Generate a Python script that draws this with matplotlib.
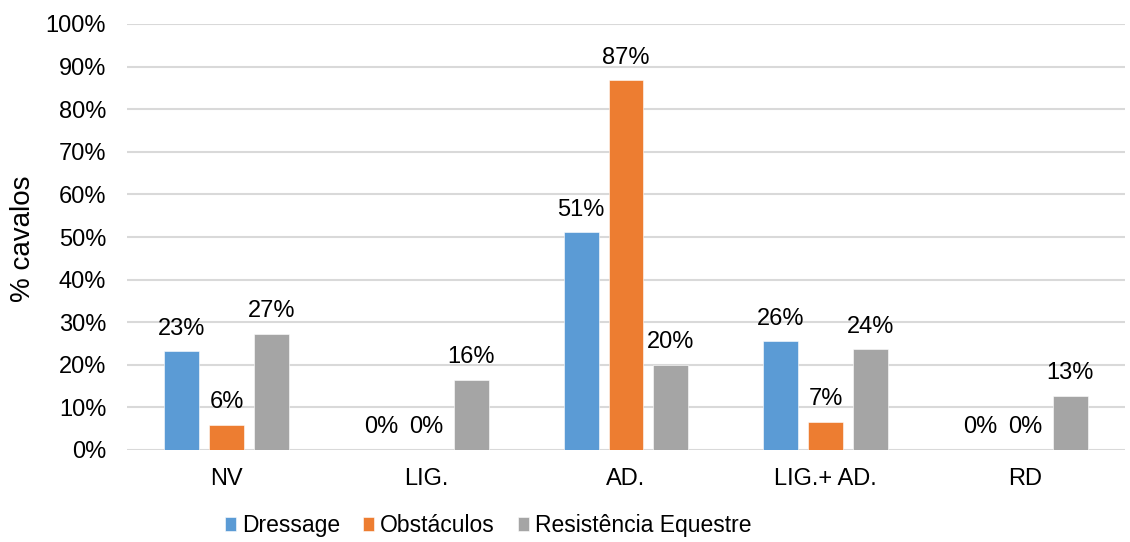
import matplotlib.pyplot as plt
import numpy as np

# categorias e percentagens por disciplina
categorias = ["NV", "LIG.", "AD.", "LIG.+ AD.", "RD"]
dressage = [23.2, 0, 51.1, 25.5, 0]
obstaculos = [5.9, 0, 86.8, 6.6, 0]
resistencia = [27.3, 16.4, 20.0, 23.6, 12.7]
series = ["Dressage", "Obstáculos", "Resistência Equestre"]
cores = ["#5B9BD5", "#ED7D31", "#A5A5A5"]

plt.rcParams['font.family'] = ['Liberation Sans', 'DejaVu Sans']

fig = plt.figure(figsize=(11.3, 5.42), dpi=100)
ax = fig.add_axes([127 / 1130, 1 - 450 / 542, 998 / 1130, 426 / 542])

x = np.arange(len(categorias))
largura = 0.175
passo = 0.225

for i, (valores, nome, cor) in enumerate(zip([dressage, obstaculos, resistencia], series, cores)):
    pos = x + (i - 1) * passo
    ax.bar(pos, valores, largura, color=cor, label=nome, zorder=3,
           edgecolor="white", linewidth=0.4)
    for p, v in zip(pos, valores):
        ax.annotate(f"{round(v):.0f}%", (p, v), xytext=(0, 12), textcoords="offset points",
                    ha="center", va="baseline", fontsize=17, color="#000000")

ax.set_xlim(-0.5, len(categorias) - 0.5)
ax.set_ylim(0, 100)
ax.set_yticks(np.arange(0, 101, 10))
ax.set_yticklabels([f"{v}%" for v in range(0, 101, 10)])
ax.set_xticks(x)
ax.set_xticklabels(categorias)
ax.tick_params(axis="both", length=0, labelsize=17, colors="#000000")
ax.tick_params(axis="x", pad=13)
ax.tick_params(axis="y", pad=15)

ax.grid(axis="y", color="#D9D9D9", linewidth=1.5, zorder=0)
for s in ax.spines.values():
    s.set_visible(False)

# titulo do eixo y
fig.text(23 / 1130, 1 - 239 / 542, "% cavalos", rotation=90, fontsize=20,
         ha="center", va="center")

fig.legend(loc="center", bbox_to_anchor=(0.432, 0.03), ncol=3, frameon=False,
           fontsize=16.5, handlelength=0.5, handleheight=0.6, handletextpad=0.25,
           columnspacing=1.0)

plt.savefig("out.png", dpi=100)
